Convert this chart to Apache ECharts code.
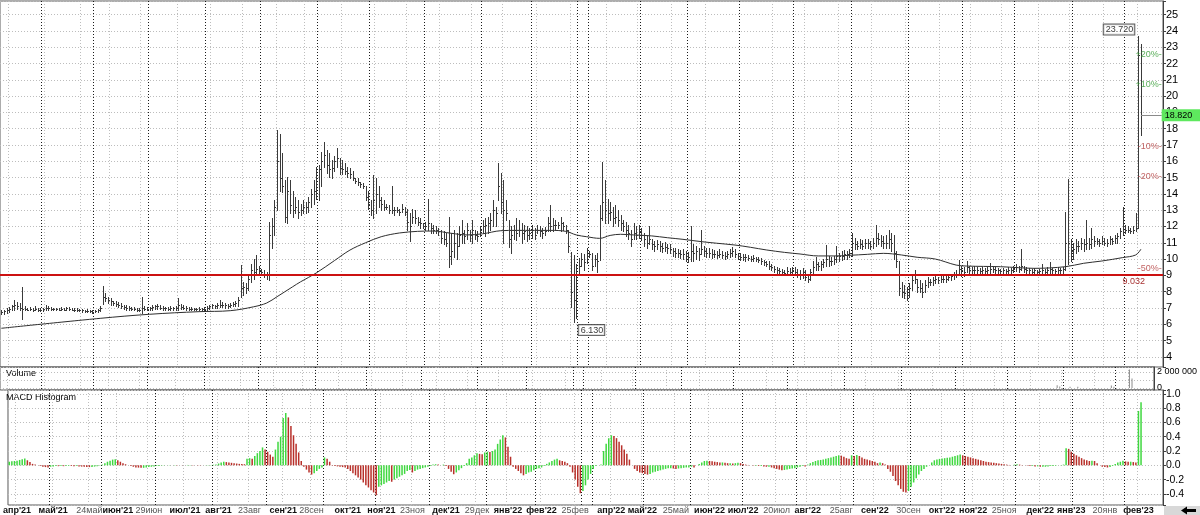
<!DOCTYPE html>
<html><head><meta charset="utf-8">
<script src="https://cdn.jsdelivr.net/npm/echarts@6.0.0/dist/echarts.min.js"></script>
<style>html,body{margin:0;padding:0;background:#fff}#c{width:1200px;height:515px}</style>
</head><body><div id="c"></div>
<script>
// ---- price bars (one entry per trading day) ----
const highs = [
6.85,6.9,7.0,7.05,7.2,7.5,7.35,7.3,8.26,7.1,
7.0,7.05,7.0,7.1,7.0,6.98,7.0,7.15,7.1,7.05,
7.0,7.02,7.0,7.05,7.0,7.08,7.05,7.0,6.98,7.0,
6.95,6.95,6.9,6.92,6.88,6.85,6.9,6.95,7.1,8.35,
7.9,7.7,7.6,7.45,7.4,7.35,7.3,7.2,7.15,7.1,
7.05,7.05,7.0,7.0,7.7,7.1,7.05,7.08,7.15,7.2,
7.25,7.15,7.1,7.05,7.05,7.1,7.05,7.1,7.63,7.25,
7.15,7.1,7.05,7.05,7.02,7.0,7.05,7.0,7.05,7.1,
7.2,7.25,7.2,7.3,7.5,7.35,7.3,7.25,7.3,7.35,
7.4,7.7,9.63,8.6,8.5,9.1,9.7,10.0,10.25,9.6,
9.4,9.3,9.2,12.3,12.5,13.6,17.92,17.7,16.5,14.85,
15.06,14.85,14.2,13.8,13.6,13.4,13.6,13.5,13.8,14.3,
14.85,15.67,15.8,16.6,17.2,16.7,16.5,16.1,16.3,16.8,
16.2,16.1,15.9,15.67,15.6,15.4,14.95,14.95,14.75,14.65,
14.5,14.2,13.6,15.16,14.95,14.5,13.8,13.6,13.4,13.3,
14.5,13.2,13.2,13.1,13.4,13.2,13.1,12.8,13.1,13.0,
12.6,12.5,12.2,12.3,13.7,12.2,12.1,12.0,11.9,11.8,
11.7,11.6,12.6,11.6,11.8,11.6,12.0,12.4,11.8,12.2,
11.8,12.4,11.8,11.7,12.0,12.4,12.5,12.6,12.8,13.6,
13.2,15.9,15.3,14.85,13.6,12.4,12.0,12.1,12.5,12.4,
12.2,12.1,12.0,11.9,12.1,11.9,12.1,12.0,11.9,11.95,
12.6,13.3,12.5,12.4,12.3,12.6,12.3,12.1,11.78,10.45,
10.25,9.7,10.05,10.35,10.3,10.66,10.5,10.35,10.25,10.35,
13.3,15.98,14.85,13.7,13.5,13.2,13.3,13.0,12.7,12.4,
12.3,12.1,11.8,12.2,12.0,12.1,11.9,11.6,11.5,12.0,
11.2,11.1,11.15,11.1,11.0,11.05,10.95,10.9,10.7,10.65,
10.6,10.55,10.6,10.5,10.45,12.03,10.9,10.8,10.7,11.78,
10.8,10.7,10.65,10.6,10.55,10.5,10.6,10.5,10.45,10.5,
10.6,10.76,10.6,10.4,10.35,10.3,10.3,10.25,10.2,10.25,
10.15,10.1,10.05,9.94,9.9,9.85,9.7,9.6,9.5,9.45,
9.4,9.35,9.5,9.45,9.53,9.5,9.4,9.3,9.45,9.3,
9.1,9.4,9.9,10.15,9.8,9.9,10.0,10.86,10.2,10.1,
10.2,10.8,10.4,10.5,10.56,10.5,10.6,11.58,11.27,11.1,
11.2,11.15,11.2,11.25,11.1,11.3,12.09,11.6,11.5,11.4,
11.5,11.78,11.6,11.5,10.5,9.9,8.6,8.4,8.3,8.5,
9.1,9.33,8.8,8.7,8.5,8.7,8.9,8.8,8.9,8.95,
8.9,9.0,8.95,9.0,9.1,9.1,9.2,9.3,9.94,9.6,
9.5,9.9,9.6,9.5,9.55,9.5,9.45,9.5,9.45,9.5,
9.74,9.6,9.5,9.45,9.4,9.45,9.4,9.5,9.45,9.6,
9.7,9.55,10.6,9.6,9.5,9.45,9.4,9.45,9.35,9.4,
9.7,9.4,9.5,9.8,9.45,9.4,9.5,9.45,9.5,12.9,
14.9,11.2,11.0,11.2,11.1,11.3,11.2,12.4,11.3,11.9,
11.4,11.3,11.2,11.4,11.3,11.25,11.4,11.3,11.5,11.6,
11.9,13.2,12.1,12.0,11.9,12.0,12.8,23.72,23.2
];
const lows = [
6.6,6.65,6.7,6.75,6.85,6.9,6.95,6.9,6.3,6.85,
6.85,6.85,6.8,6.85,6.82,6.8,6.82,6.85,6.9,6.88,
6.85,6.88,6.85,6.88,6.85,6.9,6.88,6.85,6.84,6.82,
6.8,6.78,6.75,6.76,6.72,6.7,6.72,6.75,6.8,7.24,
7.4,7.3,7.2,7.15,7.1,7.05,7.0,6.95,6.9,6.88,
6.85,6.85,6.82,6.8,6.7,6.85,6.85,6.88,6.9,6.95,
6.95,6.92,6.9,6.88,6.85,6.88,6.87,6.9,6.9,6.95,
6.92,6.9,6.88,6.86,6.85,6.85,6.86,6.85,6.86,6.9,
6.95,7.0,7.0,7.02,7.05,7.05,7.0,7.0,7.05,7.1,
7.1,7.1,7.7,7.8,7.9,8.1,8.6,8.8,9.1,9.0,
9.0,8.9,8.8,8.7,10.65,11.5,13.0,14.2,14.1,12.3,
12.2,12.8,12.6,12.8,12.5,12.7,12.8,12.8,12.9,13.2,
13.4,13.7,13.6,14.5,15.67,15.3,15.06,15.0,15.4,15.67,
15.2,15.2,15.2,15.06,14.95,14.85,14.65,14.55,14.45,14.34,
13.6,13.1,12.7,12.5,12.8,13.2,13.0,13.0,13.1,12.8,
12.8,12.7,12.9,12.7,12.9,12.7,11.8,11.1,12.2,12.2,
12.1,11.9,11.9,11.8,11.8,11.6,11.6,11.6,11.5,11.0,
10.9,10.8,9.53,9.7,10.1,10.0,10.8,11.0,11.0,11.2,
11.1,11.0,11.2,11.1,11.4,11.6,11.4,11.6,11.8,12.0,
12.0,13.6,12.8,10.97,12.4,10.76,10.35,11.2,11.17,11.4,
11.0,11.2,11.1,11.2,11.3,11.2,11.6,11.4,11.3,11.5,
11.7,11.7,11.7,11.8,11.9,11.7,11.8,11.6,10.45,7.08,
6.13,6.4,9.12,9.6,9.3,9.74,10.1,9.3,9.6,9.2,
9.94,12.4,12.2,12.2,12.4,12.0,12.2,12.0,11.8,11.7,
11.4,11.2,10.8,11.2,11.2,11.3,11.17,10.8,10.66,10.9,
10.6,10.5,10.6,10.5,10.45,10.5,10.4,10.35,10.2,10.15,
10.1,10.05,10.0,9.9,9.84,9.85,9.9,10.0,9.95,10.3,
10.2,10.15,10.1,10.05,10.1,10.05,10.1,10.05,10.0,10.05,
10.1,10.2,10.1,10.0,9.95,9.95,9.9,9.92,9.88,9.9,
9.85,9.8,9.7,9.63,9.55,9.4,9.3,9.23,9.15,9.1,
9.05,9.02,9.05,9.05,9.1,9.0,8.9,8.8,8.85,8.7,
8.61,8.7,9.1,9.3,9.3,9.35,9.5,9.6,9.6,9.65,
9.7,9.8,9.9,9.95,10.0,10.0,10.1,10.2,10.6,10.6,
10.65,10.6,10.7,10.7,10.6,10.7,10.8,10.9,10.8,10.7,
10.7,10.66,10.5,10.0,9.5,7.8,7.7,7.6,7.5,7.7,
8.1,8.5,8.0,7.95,7.7,8.0,8.3,8.4,8.4,8.5,
8.5,8.6,8.6,8.6,8.7,8.7,8.8,8.9,9.02,8.95,
8.95,9.2,9.1,9.05,9.1,9.1,9.05,9.1,9.05,9.1,
9.15,9.2,9.15,9.1,9.1,9.1,9.05,9.1,9.12,9.2,
9.25,9.2,9.3,9.2,9.15,9.1,9.05,9.1,9.05,9.1,
9.1,9.05,9.1,9.15,9.1,9.05,9.1,9.1,9.15,9.35,
9.7,9.9,10.0,10.4,10.5,10.6,10.5,10.6,10.6,10.7,
10.8,10.9,10.8,10.9,10.85,10.8,10.9,10.9,11.0,11.0,
11.3,11.5,11.6,11.65,11.6,11.6,11.7,11.9,17.6
];
const closes = [
6.75,6.8,6.9,6.95,7.1,7.2,7.1,7.0,6.95,6.95,
6.9,6.95,6.9,6.95,6.9,6.9,6.92,7.0,7.0,6.95,
6.92,6.95,6.9,6.95,6.9,6.98,6.95,6.9,6.9,6.88,
6.85,6.85,6.8,6.82,6.8,6.78,6.8,6.85,7.0,7.7,
7.6,7.5,7.4,7.3,7.25,7.2,7.1,7.05,7.0,6.98,
6.95,6.92,6.9,6.88,7.0,6.95,6.95,6.98,7.05,7.1,
7.1,7.0,7.0,6.98,6.95,7.0,6.98,7.0,7.2,7.05,
7.0,7.0,6.95,6.95,6.92,6.92,6.95,6.92,6.95,7.0,
7.1,7.15,7.1,7.2,7.2,7.15,7.15,7.1,7.2,7.25,
7.3,7.5,8.2,8.3,8.2,8.8,9.3,9.2,9.4,9.3,
9.2,9.1,9.0,11.5,12.0,13.2,16.0,15.0,14.5,12.6,
14.2,13.3,13.0,13.2,12.9,13.0,13.2,13.2,13.5,14.0,
14.2,14.6,15.5,16.0,16.4,15.8,15.5,15.6,16.0,16.2,
15.6,15.5,15.4,15.3,15.2,15.0,14.8,14.7,14.6,14.5,
13.8,13.4,13.0,13.6,14.0,13.6,13.4,13.2,13.2,13.0,
13.0,13.0,13.0,12.9,13.1,12.9,12.3,12.0,12.6,12.5,
12.3,12.2,12.0,12.0,12.2,11.9,11.8,11.8,11.7,11.3,
11.2,11.0,10.2,10.5,11.0,10.8,11.5,11.6,11.4,11.8,
11.5,11.8,11.5,11.4,11.8,12.0,12.1,12.2,12.4,13.0,
12.8,14.5,13.5,13.0,12.8,11.2,11.5,11.8,11.6,11.8,
11.6,11.7,11.5,11.6,11.8,11.5,11.8,11.7,11.6,11.7,
12.2,12.0,12.1,12.1,12.1,12.2,12.0,11.8,10.8,8.0,
7.5,9.0,9.6,10.0,9.8,10.2,10.3,9.6,10.0,9.9,
12.5,13.5,13.0,12.8,12.9,12.5,12.6,12.4,12.2,12.0,
11.8,11.6,11.2,11.6,11.5,11.7,11.5,11.2,11.0,11.2,
10.9,10.8,10.9,10.8,10.7,10.75,10.7,10.6,10.5,10.4,
10.35,10.3,10.3,10.2,10.1,10.5,10.4,10.5,10.3,10.6,
10.5,10.4,10.35,10.3,10.3,10.25,10.3,10.25,10.2,10.3,
10.35,10.5,10.3,10.2,10.15,10.1,10.1,10.05,10.0,10.05,
10.0,9.95,9.85,9.8,9.7,9.6,9.5,9.4,9.3,9.25,
9.2,9.15,9.25,9.2,9.3,9.2,9.1,9.0,9.2,8.9,
8.8,9.2,9.5,9.7,9.6,9.7,9.8,10.0,9.9,9.9,
10.0,10.2,10.2,10.2,10.3,10.3,10.4,11.0,10.9,10.8,
10.9,10.8,11.0,11.0,10.8,11.0,11.3,11.2,11.1,11.0,
11.0,11.2,11.0,10.4,9.9,8.2,8.0,7.9,7.8,8.2,
8.7,8.8,8.3,8.2,8.0,8.4,8.6,8.6,8.7,8.8,
8.7,8.8,8.8,8.8,8.9,8.95,9.0,9.1,9.4,9.3,
9.2,9.5,9.3,9.3,9.35,9.3,9.25,9.3,9.25,9.3,
9.4,9.4,9.35,9.3,9.25,9.3,9.25,9.3,9.3,9.4,
9.5,9.4,9.6,9.4,9.35,9.3,9.2,9.3,9.2,9.25,
9.3,9.2,9.3,9.4,9.3,9.25,9.3,9.35,9.4,11.0,
11.0,10.5,10.6,10.8,10.8,11.0,10.9,11.0,10.9,11.2,
11.1,11.1,11.0,11.1,11.0,11.0,11.2,11.1,11.3,11.4,
11.7,12.0,11.8,11.8,11.7,11.8,11.9,22.5,18.82
];
// ---- moving average, read at points along the curve: [bar index, price] ----
const maPoints = [[0,5.75],[38,6.36],[57,6.61],[76,6.77],[88,6.83],[97,7.07],[102,7.3],[106,7.69],[112,8.3],[115,8.6],[121,9.14],[128,9.9],[134,10.55],[140,11.0],[146,11.37],[153,11.6],[160,11.7],[166,11.72],[173,11.58],[179,11.48],[185,11.55],[192,11.74],[198,11.76],[205,11.76],[211,11.76],[217,11.7],[221,11.48],[225,11.37],[230,11.27],[234,11.45],[238,11.52],[243,11.48],[250,11.42],[256,11.31],[262,11.21],[269,11.07],[275,10.97],[282,10.86],[288,10.72],[294,10.56],[301,10.41],[307,10.31],[314,10.19],[320,10.19],[326,10.23],[333,10.29],[339,10.35],[346,10.25],[352,10.11],[359,10.0],[367,9.63],[371,9.57],[384,9.53],[391,9.47],[397,9.43],[409,9.53],[416,9.74],[423,9.88],[431,10.09],[436,10.25],[438,10.6]];
// ---- volume: [bar index, shares] (others ~0) ----
const volumePoints = [[106,60000],[409,350000],[410,200000],[414,150000],[417,150000],[430,300000],[431,150000],[437,2300000],[438,1200000]];
// ---- MACD histogram ----
const macdHist = [
0.05,0.055,0.06,0.065,0.075,0.085,0.095,0.07,0.045,0.02,
0.01,0.0,-0.01,-0.02,-0.025,-0.03,-0.02,-0.015,-0.01,-0.012,
-0.01,-0.012,-0.01,-0.008,-0.01,-0.012,-0.01,-0.015,-0.018,-0.02,
-0.022,-0.025,-0.022,-0.018,-0.012,-0.005,0.01,0.03,0.05,0.065,
0.08,0.085,0.07,0.05,0.03,0.015,0.0,-0.01,-0.02,-0.03,
-0.032,-0.035,-0.035,-0.03,-0.025,-0.02,-0.015,-0.01,-0.008,-0.005,
-0.003,0.0,0.003,0.002,0.004,0.003,0.0,-0.002,0.0,0.005,
0.006,0.004,0.0,-0.002,-0.003,0.0,0.002,0.004,0.005,0.008,
0.012,0.025,0.04,0.05,0.045,0.04,0.035,0.03,0.025,0.02,
0.018,0.015,0.09,0.1,0.09,0.13,0.17,0.2,0.25,0.22,
0.19,0.15,0.12,0.22,0.33,0.4,0.66,0.73,0.67,0.55,
0.42,0.3,0.18,0.06,-0.02,-0.06,-0.1,-0.13,-0.11,-0.08,
-0.05,-0.03,0.11,0.09,0.05,-0.005,-0.01,-0.015,-0.02,-0.025,
-0.03,-0.05,-0.08,-0.11,-0.14,-0.17,-0.2,-0.24,-0.28,-0.31,
-0.35,-0.38,-0.42,-0.3,-0.28,-0.26,-0.24,-0.22,-0.23,-0.2,
-0.18,-0.16,-0.14,-0.12,-0.08,-0.065,-0.1,-0.08,-0.06,-0.05,
-0.04,-0.03,-0.02,-0.01,0.01,0.015,0.01,0.0,0.01,-0.01,
-0.05,-0.09,-0.125,-0.1,-0.07,-0.04,-0.01,0.03,0.09,0.11,
0.14,0.17,0.16,0.155,0.18,0.19,0.185,0.2,0.22,0.3,
0.36,0.42,0.39,0.26,0.12,-0.02,-0.05,-0.08,-0.11,-0.14,
-0.12,-0.1,-0.09,-0.07,-0.05,-0.04,-0.03,-0.01,0.02,0.04,
0.06,0.08,0.09,0.07,0.06,0.05,0.03,-0.02,-0.1,-0.2,
-0.3,-0.39,-0.36,-0.28,-0.2,-0.12,-0.05,-0.01,0.0,0.01,
0.2,0.3,0.38,0.42,0.41,0.38,0.33,0.28,0.22,0.16,
0.08,0.0,-0.05,-0.08,-0.1,-0.11,-0.12,-0.13,-0.12,-0.1,
-0.09,-0.08,-0.07,-0.06,-0.05,-0.04,-0.04,-0.045,-0.05,-0.045,
-0.04,-0.035,-0.03,-0.03,-0.02,-0.03,0.0,0.02,0.04,0.06,
0.065,0.06,0.055,0.05,0.045,0.04,0.04,0.035,0.03,0.03,
0.025,0.03,0.035,0.03,0.02,0.01,0.005,0.0,-0.005,-0.005,
-0.01,-0.01,-0.015,-0.02,-0.02,-0.03,-0.04,-0.05,-0.06,-0.07,
-0.065,-0.06,-0.05,-0.045,-0.04,-0.03,-0.02,-0.01,-0.015,0.01,
0.03,0.045,0.06,0.07,0.075,0.08,0.09,0.1,0.11,0.12,
0.13,0.14,0.135,0.12,0.1,0.09,0.14,0.13,0.145,0.13,
0.11,0.09,0.08,0.07,0.06,0.05,0.03,0.04,0.03,0.01,
-0.05,-0.09,-0.15,-0.22,-0.28,-0.33,-0.37,-0.38,-0.36,-0.3,
-0.24,-0.18,-0.13,-0.08,-0.05,-0.02,0.0,0.04,0.07,0.08,
0.09,0.095,0.1,0.105,0.11,0.12,0.13,0.14,0.15,0.14,
0.13,0.12,0.11,0.1,0.09,0.08,0.07,0.06,0.05,0.045,
0.04,0.035,0.03,0.025,0.02,0.015,0.01,0.005,0.0,0.01,
0.015,0.01,0.005,0.0,-0.005,-0.01,-0.01,-0.015,-0.015,-0.02,
-0.02,-0.02,-0.015,-0.01,-0.01,-0.005,0.0,0.005,0.01,0.24,
0.23,0.19,0.16,0.14,0.12,0.1,0.08,0.07,0.06,0.065,
0.06,0.03,0.0,-0.02,-0.025,-0.03,-0.025,-0.01,0.02,0.04,
0.05,0.065,0.055,0.05,0.05,0.045,0.04,0.76,0.88
];
// ---- time axis ----
const monthStarts = [16,36,57,79,100,122,142,163,185,204,222,226,246,264,284,305,327,349,370,390,412,432];
const labelIdx = [3,17,31,42,54,68,81,93,106,117,131,144,156,169,181,193,206,219,233,245,258,271,284,297,309,322,335,348,361,373,385,399,411,424,437];
const labelText = ["апр'21","май'21","24май","июн'21","29июн","июл'21","авг'21","23авг","сен'21","28сен","окт'21","ноя'21","23ноя","дек'21","29дек","янв'22","фев'22","25фев","апр'22","май'22","25май","июн'22","июл'22","20июл","авг'22","25авг","сен'22","30сен","окт'22","ноя'22","25ноя","дек'22","янв'23","20янв","фев'23"];
// ---- annotations ----
const supportLevel = 9.032;
const lastClose = 18.82;
const highMark = [437, 23.72];
const lowMark = [220, 6.13];
const pctLevels = [22.584, 20.702, 16.938, 15.056, 9.41];
const pctText = ['+20%', '+10%', '-10%', '-20%', '-50%'];

const N = 447;
const cats = Array.from({length: N}, (_, i) => String(i));
const labelMap = new Map(labelIdx.map((k, j) => [k, labelText[j]]));
const labelSet = new Set(labelIdx);
const monthSet = new Set(monthStarts);
const FONT = 'Liberation Sans';
const lightSplit = {show: true, lineStyle: {color: '#bdbdbd', width: 1, type: [1, 2]}};
const darkSplit = {show: true, lineStyle: {color: '#1a1a1a', width: 1, type: [1, 2]}};

function xAx(grid, kind, withLabels) {
  return {
    type: 'category', gridIndex: grid, data: cats, boundaryGap: true,
    axisLine: {show: false}, axisTick: {show: false},
    axisLabel: withLabels ? {
      show: true, interval: (i) => labelSet.has(i), margin: 1, fontFamily: FONT, fontSize: 9,
      formatter: (v, i) => { const t = labelMap.get(i) || ''; return t.indexOf("'") >= 0 ? '{b|' + t + '}' : '{n|' + t + '}'; },
      rich: {b: {fontWeight: 'bold', color: '#111', fontSize: 9, fontFamily: FONT}, n: {color: '#555', fontSize: 9, fontFamily: FONT}}
    } : {show: false},
    splitLine: Object.assign({}, kind === 'month' ? darkSplit : lightSplit, {interval: (i) => kind === 'month' ? monthSet.has(i) : labelSet.has(i)})
  };
}
function isMult(v, step) { const r = v / step; return Math.abs(r - Math.round(r)) < 1e-6; }

const green = '#3fd83f', red = '#b8302a';
const chart = echarts.init(document.getElementById('c'), null, {renderer: 'canvas'});
chart.setOption({
  animation: false,
  backgroundColor: '#fff',
  textStyle: {fontFamily: FONT},
  grid: [
    {left: 0, top: 1, width: 1163, height: 366, show: true, borderColor: '#5a5a5a', borderWidth: 1},
    {left: 0, top: 367, width: 1163, height: 23, show: true, borderColor: '#5a5a5a', borderWidth: 1},
    {left: 0, top: 390, width: 1163, height: 115, show: true, borderColor: '#5a5a5a', borderWidth: 1}
  ],
  xAxis: [xAx(0, 'label'), xAx(0, 'month'), xAx(1, 'label'), xAx(1, 'month'), xAx(2, 'label', true), xAx(2, 'month')],
  yAxis: [
    {type: 'value', gridIndex: 0, position: 'right', min: 3.373, max: 25.841, minInterval: 1, maxInterval: 1,
     axisLine: {show: true, lineStyle: {color: '#404040'}}, axisTick: {show: true, length: 3, lineStyle: {color: '#404040'}},
     axisLabel: {fontSize: 11, color: '#000', margin: 3, fontFamily: FONT, formatter: (v) => isMult(v, 1) ? String(Math.round(v)) : ''},
     splitLine: lightSplit},
    {type: 'value', gridIndex: 1, position: 'right', min: -250000, max: 2625000, minInterval: 1000000, maxInterval: 1000000,
     axisLine: {show: true, lineStyle: {color: '#404040'}}, axisTick: {show: false},
     axisLabel: {fontSize: 9, color: '#000', margin: 3, fontFamily: FONT, formatter: (v) => Math.abs(v) < 1 ? '0' : (Math.abs(v - 2000000) < 1 ? '2 000 000' : '')},
     splitLine: lightSplit},
    {type: 'value', gridIndex: 2, position: 'right', min: -0.555, max: 1.053, minInterval: 0.2, maxInterval: 0.2,
     axisLine: {show: true, lineStyle: {color: '#404040'}}, axisTick: {show: true, length: 3, lineStyle: {color: '#404040'}},
     axisLabel: {fontSize: 10.5, color: '#000', margin: 3, fontFamily: FONT, formatter: (v) => isMult(v, 0.2) ? (Math.abs(v) < 1e-9 ? '0.0' : v.toFixed(1)) : ''},
     splitLine: lightSplit}
  ],
  graphic: [
    {type: 'text', left: 6, top: 369, style: {text: 'Volume', fontSize: 9, fontFamily: FONT, fill: '#000'}},
    {type: 'text', left: 6, top: 393, style: {text: 'MACD Histogram', fontSize: 9, fontFamily: FONT, fill: '#000'}},
    {type: 'rect', shape: {x: 1164, y: 506, width: 36, height: 9}, style: {fill: '#d8d8d8'}},
    {type: 'polygon', shape: {points: [[1181, 510.5], [1187, 506.5], [1187, 509], [1196, 509], [1196, 512], [1187, 512], [1187, 514.5]]}, style: {fill: '#000'}}
  ],
  series: [
    {
      type: 'line', name: 'MA', xAxisIndex: 0, yAxisIndex: 0, data: maPoints, showSymbol: false, smooth: 0.35,
      lineStyle: {color: '#2e2e2e', width: 1}, silent: true, z: 2,
      markLine: {
        silent: true, symbol: ['none', 'none'], z: 6,
        data: [
          {yAxis: supportLevel, lineStyle: {color: '#cc1111', width: 2, type: 'solid'},
           label: {show: true, position: 'insideEndBottom', formatter: supportLevel.toFixed(3), color: '#a83232', fontSize: 9, fontFamily: FONT, padding: [0, 16, 0, 0], distance: 2}},
          [{coord: ['438', lastClose], lineStyle: {color: '#8a8a8a', width: 1, type: 'solid'},
            label: {show: true, position: 'end', formatter: lastClose.toFixed(3), backgroundColor: '#5ee85e', color: '#000', fontSize: 9, fontFamily: FONT, padding: [2, 12, 1, 3], distance: 0}},
           {coord: ['446', lastClose]}]
        ]
      }
    },
    {
      type: 'custom', name: 'price', xAxisIndex: 0, yAxisIndex: 0, z: 3, clip: true,
      data: highs.map((h, i) => [i, h, lows[i], closes[i]]),
      encode: {x: 0, y: [1, 2]},
      renderItem: function (params, api) {
        const i = api.value(0);
        const top = api.coord([i, api.value(1)]);
        const bot = api.coord([i, api.value(2)]);
        const cl = api.coord([i, api.value(3)]);
        const x = Math.round(top[0]) + 0.5;
        const yc = Math.round(cl[1]) + 0.5;
        return {type: 'group', children: [
          {type: 'line', shape: {x1: x, y1: Math.round(top[1]), x2: x, y2: Math.round(bot[1]) + 1}, style: {stroke: '#3a3a3a', lineWidth: 1}},
          {type: 'line', shape: {x1: x, y1: yc, x2: x + 1.5, y2: yc}, style: {stroke: '#3a3a3a', lineWidth: 1}}
        ]};
      }
    },
    {
      type: 'scatter', name: 'pct', xAxisIndex: 0, yAxisIndex: 0, symbolSize: 0, silent: true, z: 5,
      data: pctLevels.map((p, k) => ({value: ['446', p], label: {formatter: pctText[k] + '-', color: k < 2 ? '#2f9a2f' : '#b23a3a'}})),
      label: {show: true, position: 'left', distance: 0, fontSize: 9, fontFamily: FONT}
    },
    {
      type: 'scatter', name: 'extremes', xAxisIndex: 0, yAxisIndex: 0, symbolSize: 0, silent: true, z: 6,
      data: [
        {value: [String(highMark[0]), highMark[1]], label: {position: 'left', offset: [1, -6]}},
        {value: [String(lowMark[0]), lowMark[1]], label: {position: 'right', offset: [0, 8]}}
      ],
      label: {show: true, formatter: (p) => Number(p.value[1]).toFixed(3), backgroundColor: '#fff', borderColor: '#333', borderWidth: 1,
              padding: [1, 1, 0, 2], fontSize: 9, fontFamily: FONT, color: '#000'}
    },
    {
      type: 'bar', name: 'Volume', xAxisIndex: 2, yAxisIndex: 1, data: volumePoints, barWidth: 1,
      itemStyle: {color: '#8c8c8c'}, silent: true
    },
    {
      type: 'bar', name: 'MACD', xAxisIndex: 4, yAxisIndex: 2, barWidth: 1.5, silent: true,
      data: macdHist.map((v, i) => ({value: v, itemStyle: {color: (i === 0 || v >= macdHist[i - 1]) ? green : red}}))
    }
  ]
});
</script></body></html>
